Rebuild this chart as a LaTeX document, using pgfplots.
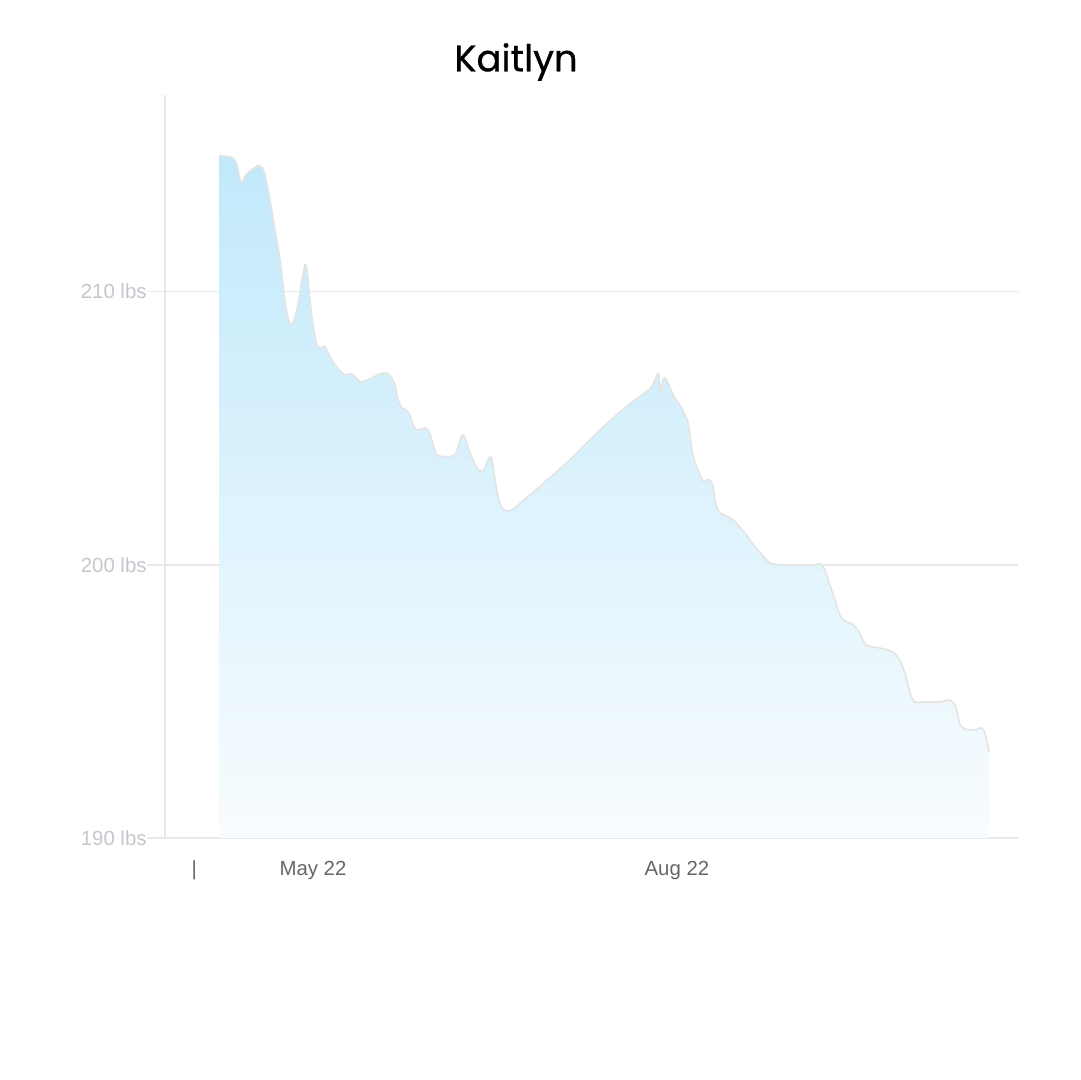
\documentclass[border=0pt]{standalone}
\usepackage{pgfplots}
\pgfplotsset{compat=1.18}
\usepackage{pgfplotstable}
\usepackage{fontspec}
\setmainfont{Liberation Sans}
\newfontfamily\titlefont{Poppins}[FakeBold=0.7]
\definecolor{gridc}{HTML}{E8E8E8}
\definecolor{ylab}{HTML}{C3C7CD}
\definecolor{xlab}{HTML}{666666}
\definecolor{filltop}{RGB}{193,233,251}
\definecolor{fillbot}{RGB}{248,252,254}
\definecolor{linec}{HTML}{E4E4E4}
\pgfplotstableread{
d w
-23.75 214.98
-20.47 214.91
-19.21 214.65
-18.19 213.99
-16.93 214.29
-15.41 214.47
-13.90 214.62
-12.89 214.54
-12.13 214.29
-10.87 213.37
-9.60 212.27
-8.34 211.17
-7.08 209.71
-6.32 209.05
-5.56 208.79
-4.80 208.97
-3.79 209.52
-2.78 210.44
-2.02 210.99
-1.52 210.81
-0.76 209.71
0.00 208.79
1.01 208.06
2.02 207.95
3.03 207.99
4.04 207.69
5.05 207.44
6.57 207.14
8.09 206.96
9.60 207.00
10.61 206.89
11.88 206.70
13.39 206.74
14.91 206.85
16.43 206.96
17.94 207.03
18.95 207.00
19.71 206.89
20.72 206.59
21.48 206.04
22.49 205.75
23.50 205.68
24.51 205.49
25.27 205.13
26.03 204.95
27.04 204.95
28.30 205.02
29.06 204.95
29.82 204.69
30.58 204.29
31.33 204.03
32.85 203.96
34.37 203.96
35.88 204.03
36.64 204.29
37.15 204.58
37.91 204.76
38.66 204.58
39.42 204.21
40.43 203.85
41.44 203.55
42.71 203.41
43.46 203.55
44.22 203.85
44.98 203.96
45.49 203.66
46.24 202.93
47.00 202.38
47.76 202.09
48.77 201.98
49.78 201.98
51.05 202.09
54.84 202.56
59.89 203.19
64.94 203.85
70.00 204.58
75.05 205.27
80.11 205.90
85.16 206.45
87.18 207.00
87.43 206.92
87.94 206.34
88.44 206.74
88.95 206.85
89.71 206.67
90.72 206.34
91.73 206.04
92.74 205.86
93.75 205.57
94.76 205.24
95.27 204.76
95.77 204.21
96.53 203.77
97.29 203.48
98.05 203.22
98.81 203.04
99.56 203.11
100.32 203.11
101.08 202.89
101.59 202.38
102.34 202.01
103.35 201.87
104.87 201.76
106.64 201.58
109.17 201.17
111.69 200.66
114.22 200.26
115.48 200.07
118.01 200.00
123.06 200.00
126.86 200.00
128.12 200.04
129.38 199.82
130.65 199.27
131.91 198.72
133.17 198.17
134.44 197.95
136.21 197.84
137.72 197.62
138.73 197.33
139.74 197.07
141.26 197.00
144.54 196.92
146.57 196.81
148.34 196.52
149.35 196.15
150.10 195.79
150.86 195.31
152.13 194.98
154.65 194.98
158.44 194.98
160.97 195.05
162.23 194.87
162.99 194.51
163.50 194.14
164.76 193.99
167.28 193.96
169.05 194.03
169.81 193.85
170.57 193.41
170.83 193.15
}\weights
\begin{document}
\begin{tikzpicture}
\path[use as bounding box] (0,0) rectangle (540pt,540pt);
\node[font=\titlefont\fontsize{18.5}{20}\selectfont, text=black] at (258pt,509pt) {Kaitlyn};
\begin{axis}[
  at={(82.5pt,121pt)}, anchor=south west,
  scale only axis, width=426.5pt, height=371.5pt,
  xmin=-37.4, xmax=178.2, ymin=190, ymax=217.2,
  axis x line=bottom, axis y line=left,
  axis line style={gridc, line width=0.7pt, -},
  ytick={190,200,210},
  yticklabels={190 lbs,200 lbs,210 lbs},
  xtick={-30,0,92},
  xticklabels={|,May 22,Aug 22},
  ymajorgrids, major grid style={gridc, line width=0.7pt},
  tick align=outside,
  major tick length=9pt,
  ytick style={gridc, line width=0.7pt},
  xtick style={draw=none},
  yticklabel style={font=\fontsize{10.2}{12}\selectfont, text=ylab, inner sep=0pt, anchor=east},
  xticklabel style={font=\fontsize{10.2}{12}\selectfont, text=xlab, inner sep=0pt, anchor=center, yshift=-7pt},
  clip=false,
]
\addplot[draw=none, top color=filltop, bottom color=fillbot, smooth, tension=0.4] table[x=d,y=w] {\weights} \closedcycle;
\addplot[draw=linec, line width=0.8pt, smooth, tension=0.4, mark=none] table[x=d,y=w] {\weights};
\end{axis}
\end{tikzpicture}
\end{document}
